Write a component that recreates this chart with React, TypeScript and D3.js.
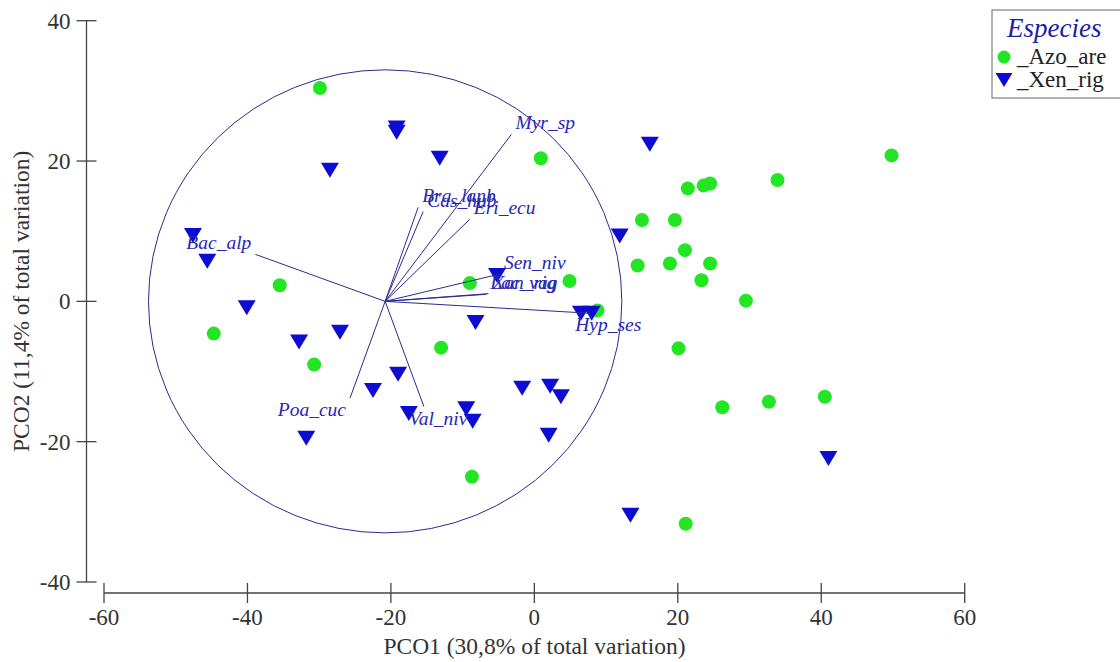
import React from "react";
import * as d3 from "d3";

const xTicks = [-60, -40, -20, 0, 20, 40, 60];
const yTicks = [-40, -20, 0, 20, 40];

const azoX = [-29.9, 0.9, 49.8, 33.9, 21.4, 23.6, 24.5, 15.0, 19.6, 21.0, 14.4, 18.9, 24.5, 23.3, 4.9, -9.0, -35.5, 29.5, 8.8, -44.7, -13.0, 20.1, -30.7, 26.2, 32.7, 40.5, -8.7, 21.1];
const azoY = [30.4, 20.4, 20.8, 17.3, 16.1, 16.5, 16.8, 11.6, 11.6, 7.3, 5.1, 5.4, 5.4, 3.0, 2.9, 2.6, 2.3, 0.1, -1.3, -4.6, -6.6, -6.7, -9.0, -15.1, -14.3, -13.6, -25.0, -31.7];

const xenX = [-47.6, -45.6, -40.1, -32.8, -27.1, -28.5, -19.2, -19.2, -13.2, 16.1, 11.9, -5.2, 6.5, 8.0, -8.2, -22.5, -19.0, -17.5, -9.5, -8.6, -1.7, 2.2, 3.7, 2.0, -31.8, 13.4, 41.0];
const xenY = [9.4, 5.7, -0.9, -5.8, -4.4, 18.7, 24.7, 24.1, 20.4, 22.4, 9.3, 3.7, -1.7, -1.7, -3.0, -12.7, -10.4, -16.0, -15.3, -17.1, -12.4, -12.1, -13.6, -19.1, -19.5, -30.5, -22.4];

const vecNames = ["Myr_sp", "Bra_lanb", "Cas_hub", "Eri_ecu", "Sen_niv", "Xan_rig", "Lac_vag", "Hyp_ses", "Bac_alp", "Poa_cuc", "Val_niv"];
const vecX = [17.6, 4.6, 5.3, 11.8, 16.0, 14.4, 14.1, 28.6, -18.1, -4.9, 5.4];
const vecY = [23.8, 13.4, 12.8, 11.7, 3.9, 1.1, 1.0, -1.7, 6.7, -13.8, -15.0];

const circleCenter = [-20.8, 0];
const circleRadius = 33;

const legendTitle = "Especies";
const seriesNames = ["_Azo_are", "_Xen_rig"];

const GREEN = "#22e622";
const BLUE = "#0c0cd2";
const VEC = "#2a2a90";
const LBL = "#2626b4";
const AX = "#444";
const FONT = "'Liberation Serif', 'Times New Roman', serif";

function tri(cx: number, cy: number, w = 18, h = 15) {
  return `M${cx - w / 2},${cy - h / 2}L${cx + w / 2},${cy - h / 2}L${cx},${cy + h / 2}Z`;
}

export default function App() {
  const W = 1120, H = 662;
  const x = d3.scaleLinear().domain([-60, 60]).range([104, 964.7]);
  const y = d3.scaleLinear().domain([-40, 40]).range([582, 20.7]);
  const yAxisX = 86.5;
  const xAxisY = 593;
  const ox = x(circleCenter[0]);
  const oy = y(circleCenter[1]);

  return (
    <svg width={W} height={H} style={{ position: "absolute", left: 0, top: 0, background: "#fff" }} fontFamily={FONT}>
      <rect x={0} y={0} width={W} height={H} fill="#fff" />
      {/* Y axis */}
      <line x1={yAxisX} x2={yAxisX} y1={y(-40)} y2={y(40)} stroke={AX} strokeWidth={1.3} />
      {yTicks.map((t) => (
        <g key={"yt" + t}>
          <line x1={yAxisX - 10} x2={yAxisX + 10} y1={y(t)} y2={y(t)} stroke={AX} strokeWidth={1.3} />
          <text x={yAxisX - 16} y={y(t)} dy="0.35em" textAnchor="end" fontSize={23} fill="#333">{t}</text>
        </g>
      ))}
      {/* X axis */}
      <line x1={x(-60)} x2={x(60)} y1={xAxisY} y2={xAxisY} stroke={AX} strokeWidth={1.3} />
      {xTicks.map((t) => (
        <g key={"xt" + t}>
          <line x1={x(t)} x2={x(t)} y1={xAxisY - 10} y2={xAxisY + 10} stroke={AX} strokeWidth={1.3} />
          <text x={x(t)} y={xAxisY + 32} textAnchor="middle" fontSize={23} fill="#333">{t}</text>
        </g>
      ))}
      <text x={534.5} y={654} textAnchor="middle" fontSize={23.5} fill="#333">PCO1 (30,8% of total variation)</text>
      <text transform={`translate(29,${y(0)}) rotate(-90)`} textAnchor="middle" fontSize={23.5} fill="#333">PCO2 (11,4% of total variation)</text>

      {/* correlation circle */}
      <ellipse cx={ox} cy={oy} rx={x(circleRadius) - x(0)} ry={y(0) - y(circleRadius)} fill="none" stroke={VEC} strokeWidth={1} />

      {/* points */}
      {azoX.map((v, i) => (
        <circle key={"a" + i} cx={x(v)} cy={y(azoY[i])} r={7} fill={GREEN} />
      ))}
      {xenX.map((v, i) => (
        <path key={"b" + i} d={tri(x(v), y(xenY[i]))} fill={BLUE} />
      ))}

      {/* vectors */}
      {vecNames.map((n, i) => {
        const ex = x(circleCenter[0] + vecX[i]);
        const ey = y(circleCenter[1] + vecY[i]);
        const up = vecY[i] >= 0;
        const right = vecX[i] >= 0;
        let tx = right ? ex + 4 : ex - 4;
        let ty = up ? ey - 5 : ey + 18;
        if (!up && right) tx = ex - 15;
        return (
          <g key={"v" + n}>
            <line x1={ox} y1={oy} x2={ex} y2={ey} stroke={VEC} strokeWidth={1} />
            <text x={tx} y={ty} textAnchor={right ? "start" : "end"} fontSize={19.5} fontStyle="italic" fill={LBL}>{n}</text>
          </g>
        );
      })}

      {/* legend */}
      <rect x={992} y={10} width={140} height={88} fill="#fff" stroke="#666" strokeWidth={1} />
      <text x={1007} y={37} fontSize={27} fontStyle="italic" fill="#1c1ca8">{legendTitle}</text>
      <circle cx={1004} cy={57} r={6.5} fill={GREEN} />
      <text x={1017} y={64} fontSize={23} fill="#222">{seriesNames[0]}</text>
      <path d={tri(1004, 80, 17, 14)} fill={BLUE} />
      <text x={1017} y={87} fontSize={23} fill="#222">{seriesNames[1]}</text>
    </svg>
  );
}
